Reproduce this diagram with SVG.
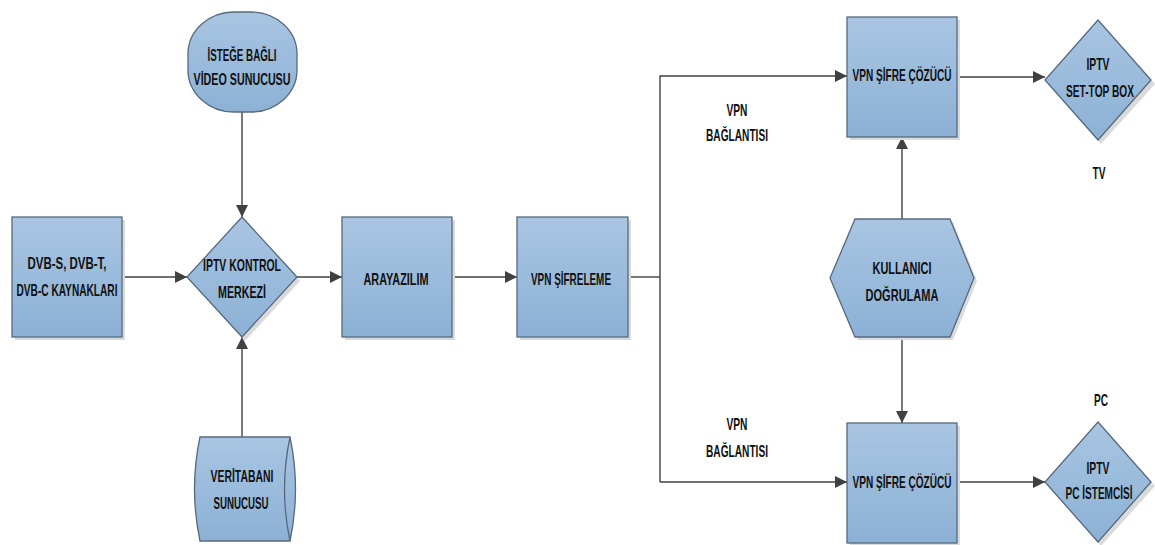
<svg xmlns="http://www.w3.org/2000/svg" width="1155" height="545" viewBox="0 0 1155 545">
<defs>
<linearGradient id="g" x1="0" y1="0" x2="0" y2="1">
<stop offset="0" stop-color="#a9c5e2"/>
<stop offset="1" stop-color="#8cb1d5"/>
</linearGradient>
<marker id="ar" viewBox="0 0 12 12" refX="12" refY="6" markerWidth="12" markerHeight="12" markerUnits="userSpaceOnUse" orient="auto">
<path d="M0,0 L12,6 L0,12 Z" fill="#404040"/>
</marker>
</defs>
<style>
.n{fill:url(#g);stroke:#56697e;stroke-width:1.3}
.sh{fill:#dadada}
.t{font-family:"Liberation Sans","Arial",sans-serif;font-weight:bold;font-size:16.5px;fill:#111;text-anchor:middle}
.c{fill:none;stroke:#404040;stroke-width:1.4}
</style>
<g id="connectors">
<path class="c" d="M122,277 H187" marker-end="url(#ar)"/>
<path class="c" d="M242,112 V217" marker-end="url(#ar)"/>
<path class="c" d="M242,437 V337" marker-end="url(#ar)"/>
<path class="c" d="M297,277 H342" marker-end="url(#ar)"/>
<path class="c" d="M452,277 H517" marker-end="url(#ar)"/>
<path class="c" d="M628,277 H660"/>
<path class="c" d="M660,482 V76 H847" marker-end="url(#ar)"/>
<path class="c" d="M660,482 H847" marker-end="url(#ar)"/>
<path class="c" d="M957,77 H1045" marker-end="url(#ar)"/>
<path class="c" d="M957,482 H1045" marker-end="url(#ar)"/>
<path class="c" d="M902,219 V137" marker-end="url(#ar)"/>
<path class="c" d="M902,337 V423" marker-end="url(#ar)"/>
</g>
<g id="dvb">
<rect class="sh" x="15" y="220" width="110" height="120"/>
<rect class="n" x="12" y="217" width="110" height="120"/>
<text class="t" x="67" y="269" textLength="79" lengthAdjust="spacingAndGlyphs">DVB-S, DVB-T,</text>
<text class="t" x="67" y="296" textLength="101" lengthAdjust="spacingAndGlyphs">DVB-C KAYNAKLARI</text>
</g>
<g id="vod">
<rect class="n" x="188" y="12" width="109" height="100" rx="46" ry="42"/>
<text class="t" x="242" y="61" textLength="69" lengthAdjust="spacingAndGlyphs">İSTEĞE BAĞLI</text>
<text class="t" x="242" y="85" textLength="97" lengthAdjust="spacingAndGlyphs">VİDEO SUNUCUSU</text>
</g>
<g id="kontrol">
<path class="sh" d="M245,221 L300,281 L245,341 L190,281 Z"/>
<path class="n" d="M242,217 L297,277 L242,337 L187,277 Z"/>
<text class="t" x="242" y="271" textLength="78" lengthAdjust="spacingAndGlyphs">IPTV KONTROL</text>
<text class="t" x="242" y="298" textLength="48" lengthAdjust="spacingAndGlyphs">MERKEZİ</text>
</g>
<g id="db">
<path class="n" d="M200,437 H290 Q301,489 290,541 H200 Q189,489 200,437 Z"/>
<path class="n" d="M290,437 Q279,489 290,541"/>
<text class="t" x="242" y="482" textLength="63" lengthAdjust="spacingAndGlyphs">VERİTABANI</text>
<text class="t" x="241" y="509" textLength="55" lengthAdjust="spacingAndGlyphs">SUNUCUSU</text>
</g>
<g id="arayazilim">
<rect class="sh" x="345" y="220" width="110" height="120"/>
<rect class="n" x="342" y="217" width="110" height="120"/>
<text class="t" x="396" y="285" textLength="65" lengthAdjust="spacingAndGlyphs">ARAYAZILIM</text>
</g>
<g id="vpnsifreleme">
<rect class="sh" x="520" y="220" width="111" height="120"/>
<rect class="n" x="517" y="217" width="111" height="120"/>
<text class="t" x="571" y="285" textLength="80" lengthAdjust="spacingAndGlyphs">VPN ŞİFRELEME</text>
</g>
<g id="cozucu1">
<rect class="sh" x="850" y="20" width="110" height="120"/>
<rect class="n" x="847" y="17" width="110" height="120"/>
<text class="t" x="902" y="81" textLength="99" lengthAdjust="spacingAndGlyphs">VPN ŞİFRE ÇÖZÜCÜ</text>
</g>
<g id="cozucu2">
<rect class="sh" x="850" y="426" width="110" height="120"/>
<rect class="n" x="847" y="423" width="110" height="120"/>
<text class="t" x="902" y="488" textLength="99" lengthAdjust="spacingAndGlyphs">VPN ŞİFRE ÇÖZÜCÜ</text>
</g>
<g id="kullanici">
<path class="sh" d="M858,222 L953,222 L977,281 L953,340 L858,340 L833,281 Z"/>
<path class="n" d="M855,219 L950,219 L974,278 L950,337 L855,337 L830,278 Z"/>
<text class="t" x="902" y="274" textLength="59" lengthAdjust="spacingAndGlyphs">KULLANICI</text>
<text class="t" x="902" y="301" textLength="73" lengthAdjust="spacingAndGlyphs">DOĞRULAMA</text>
</g>
<g id="settop">
<path class="sh" d="M1101,24 L1155,84 L1101,144 L1048,84 Z"/>
<path class="n" d="M1098,20 L1151,80 L1098,140 L1045,80 Z"/>
<text class="t" x="1098" y="70" textLength="23" lengthAdjust="spacingAndGlyphs">IPTV</text>
<text class="t" x="1100" y="97" textLength="68" lengthAdjust="spacingAndGlyphs">SET-TOP BOX</text>
</g>
<g id="pcistemci">
<path class="sh" d="M1101,426 L1155,486 L1101,546 L1048,486 Z"/>
<path class="n" d="M1098,422 L1151,482 L1098,542 L1045,482 Z"/>
<text class="t" x="1098" y="474" textLength="23" lengthAdjust="spacingAndGlyphs">IPTV</text>
<text class="t" x="1099" y="499" textLength="67" lengthAdjust="spacingAndGlyphs">PC İSTEMCİSİ</text>
</g>
<g id="labels">
<text class="t" x="737" y="116" textLength="21" lengthAdjust="spacingAndGlyphs">VPN</text>
<text class="t" x="737" y="141" textLength="62" lengthAdjust="spacingAndGlyphs">BAĞLANTISI</text>
<text class="t" x="737" y="430" textLength="21" lengthAdjust="spacingAndGlyphs">VPN</text>
<text class="t" x="737" y="457" textLength="62" lengthAdjust="spacingAndGlyphs">BAĞLANTISI</text>
<text class="t" x="1099" y="179" textLength="13" lengthAdjust="spacingAndGlyphs">TV</text>
<text class="t" x="1101" y="406" textLength="14" lengthAdjust="spacingAndGlyphs">PC</text>
</g>
</svg>
